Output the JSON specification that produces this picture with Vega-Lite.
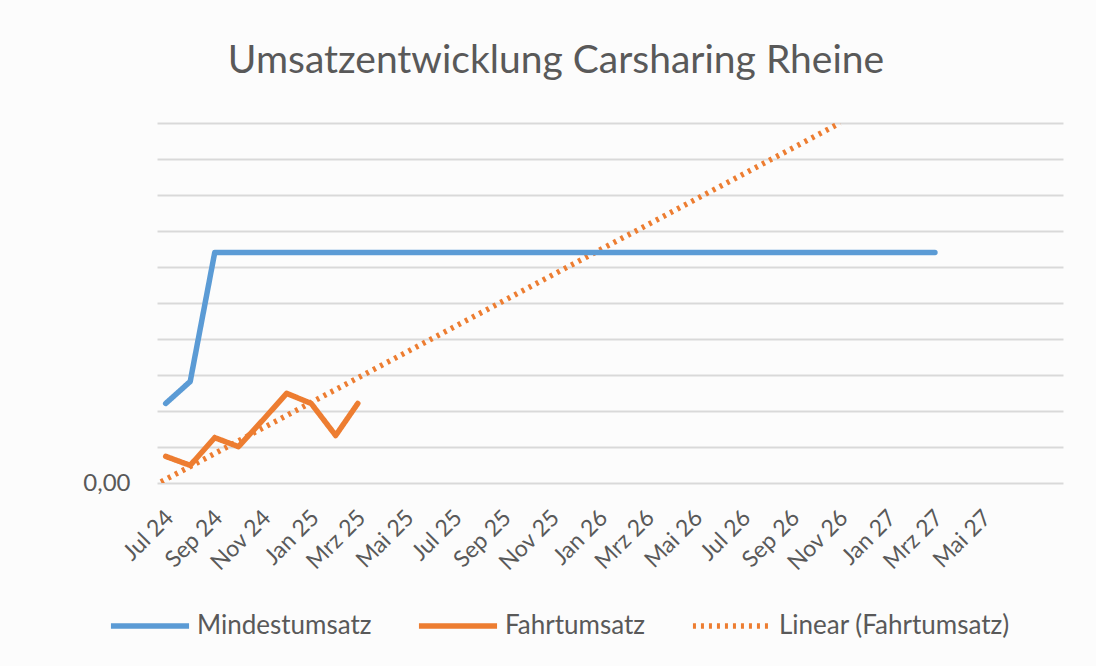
{
  "$schema": "https://vega.github.io/schema/vega-lite/v6.json",
  "width": 906,
  "height": 360,
  "autosize": {"type": "none"},
  "padding": {"left": 157, "top": 123, "right": 33, "bottom": 183},
  "background": "#fcfcfc",
  "title": {
    "text": "Umsatzentwicklung Carsharing Rheine",
    "font": "Lato",
    "fontSize": 39,
    "fontWeight": "normal",
    "color": "#595959",
    "anchor": "middle",
    "dx": -54,
    "offset": 42
  },
  "data": {
    "values": [
      {"date": "2024-07-01T00:00:00", "series": "Mindestumsatz", "value": 2.21},
      {"date": "2024-08-01T00:00:00", "series": "Mindestumsatz", "value": 2.82},
      {"date": "2024-09-01T00:00:00", "series": "Mindestumsatz", "value": 6.4},
      {"date": "2024-10-01T00:00:00", "series": "Mindestumsatz", "value": 6.4},
      {"date": "2024-11-01T00:00:00", "series": "Mindestumsatz", "value": 6.4},
      {"date": "2024-12-01T00:00:00", "series": "Mindestumsatz", "value": 6.4},
      {"date": "2025-01-01T00:00:00", "series": "Mindestumsatz", "value": 6.4},
      {"date": "2025-02-01T00:00:00", "series": "Mindestumsatz", "value": 6.4},
      {"date": "2025-03-01T00:00:00", "series": "Mindestumsatz", "value": 6.4},
      {"date": "2025-04-01T00:00:00", "series": "Mindestumsatz", "value": 6.4},
      {"date": "2025-05-01T00:00:00", "series": "Mindestumsatz", "value": 6.4},
      {"date": "2025-06-01T00:00:00", "series": "Mindestumsatz", "value": 6.4},
      {"date": "2025-07-01T00:00:00", "series": "Mindestumsatz", "value": 6.4},
      {"date": "2025-08-01T00:00:00", "series": "Mindestumsatz", "value": 6.4},
      {"date": "2025-09-01T00:00:00", "series": "Mindestumsatz", "value": 6.4},
      {"date": "2025-10-01T00:00:00", "series": "Mindestumsatz", "value": 6.4},
      {"date": "2025-11-01T00:00:00", "series": "Mindestumsatz", "value": 6.4},
      {"date": "2025-12-01T00:00:00", "series": "Mindestumsatz", "value": 6.4},
      {"date": "2026-01-01T00:00:00", "series": "Mindestumsatz", "value": 6.4},
      {"date": "2026-02-01T00:00:00", "series": "Mindestumsatz", "value": 6.4},
      {"date": "2026-03-01T00:00:00", "series": "Mindestumsatz", "value": 6.4},
      {"date": "2026-04-01T00:00:00", "series": "Mindestumsatz", "value": 6.4},
      {"date": "2026-05-01T00:00:00", "series": "Mindestumsatz", "value": 6.4},
      {"date": "2026-06-01T00:00:00", "series": "Mindestumsatz", "value": 6.4},
      {"date": "2026-07-01T00:00:00", "series": "Mindestumsatz", "value": 6.4},
      {"date": "2026-08-01T00:00:00", "series": "Mindestumsatz", "value": 6.4},
      {"date": "2026-09-01T00:00:00", "series": "Mindestumsatz", "value": 6.4},
      {"date": "2026-10-01T00:00:00", "series": "Mindestumsatz", "value": 6.4},
      {"date": "2026-11-01T00:00:00", "series": "Mindestumsatz", "value": 6.4},
      {"date": "2026-12-01T00:00:00", "series": "Mindestumsatz", "value": 6.4},
      {"date": "2027-01-01T00:00:00", "series": "Mindestumsatz", "value": 6.4},
      {"date": "2027-02-01T00:00:00", "series": "Mindestumsatz", "value": 6.4},
      {"date": "2027-03-01T00:00:00", "series": "Mindestumsatz", "value": 6.4},
      {"date": "2024-07-01T00:00:00", "series": "Fahrtumsatz", "value": 0.74},
      {"date": "2024-08-01T00:00:00", "series": "Fahrtumsatz", "value": 0.49},
      {"date": "2024-09-01T00:00:00", "series": "Fahrtumsatz", "value": 1.26},
      {"date": "2024-10-01T00:00:00", "series": "Fahrtumsatz", "value": 1.01},
      {"date": "2024-11-01T00:00:00", "series": "Fahrtumsatz", "value": 1.75},
      {"date": "2024-12-01T00:00:00", "series": "Fahrtumsatz", "value": 2.49},
      {"date": "2025-01-01T00:00:00", "series": "Fahrtumsatz", "value": 2.21},
      {"date": "2025-02-01T00:00:00", "series": "Fahrtumsatz", "value": 1.32},
      {"date": "2025-03-01T00:00:00", "series": "Fahrtumsatz", "value": 2.21},
      {"date": "2024-06-25T00:00:00", "series": "Linear (Fahrtumsatz)", "value": 0.03},
      {"date": "2026-11-01T00:00:00", "series": "Linear (Fahrtumsatz)", "value": 10.0}
    ]
  },
  "encoding": {
    "x": {
      "field": "date",
      "type": "temporal",
      "scale": {"domain": [{"year": 2024, "month": 6, "date": 20}, {"year": 2027, "month": 8, "date": 10}]},
      "axis": {
        "title": null,
        "grid": false,
        "domain": false,
        "ticks": false,
        "values": [
          {"year": 2024, "month": 7, "date": 1}, {"year": 2024, "month": 9, "date": 1}, {"year": 2024, "month": 11, "date": 1},
          {"year": 2025, "month": 1, "date": 1}, {"year": 2025, "month": 3, "date": 1}, {"year": 2025, "month": 5, "date": 1},
          {"year": 2025, "month": 7, "date": 1}, {"year": 2025, "month": 9, "date": 1}, {"year": 2025, "month": 11, "date": 1},
          {"year": 2026, "month": 1, "date": 1}, {"year": 2026, "month": 3, "date": 1}, {"year": 2026, "month": 5, "date": 1},
          {"year": 2026, "month": 7, "date": 1}, {"year": 2026, "month": 9, "date": 1}, {"year": 2026, "month": 11, "date": 1},
          {"year": 2027, "month": 1, "date": 1}, {"year": 2027, "month": 3, "date": 1}, {"year": 2027, "month": 5, "date": 1}
        ],
        "labelExpr": "['Jan','Feb','Mrz','Apr','Mai','Jun','Jul','Aug','Sep','Okt','Nov','Dez'][month(datum.value)] + ' ' + timeFormat(datum.value, '%y')",
        "labelAngle": -45,
        "labelAlign": "right",
        "labelBaseline": "top",
        "labelPadding": 23,
        "labelOffset": -4,
        "labelFont": "Lato",
        "labelFontSize": 23,
        "labelColor": "#595959",
        "labelOverlap": false,
        "labelBound": false,
        "labelFlush": false
      }
    },
    "y": {
      "field": "value",
      "type": "quantitative",
      "scale": {"domain": [0, 10], "nice": false, "zero": true},
      "axis": {
        "title": null,
        "values": [0, 1, 2, 3, 4, 5, 6, 7, 8, 9, 10],
        "labelExpr": "datum.value === 0 ? '0,00' : ''",
        "domain": false,
        "ticks": false,
        "grid": true,
        "gridColor": "#d9d9d9",
        "gridWidth": 2,
        "labelPadding": 27,
        "labelFont": "Lato",
        "labelFontSize": 24,
        "labelColor": "#595959"
      }
    },
    "color": {
      "field": "series",
      "type": "nominal",
      "scale": {"domain": ["Mindestumsatz", "Fahrtumsatz", "Linear (Fahrtumsatz)"], "range": ["#5b9bd5", "#ed7d31", "#ed7d31"]},
      "legend": {
        "title": null,
        "orient": "none",
        "direction": "horizontal",
        "legendX": -49,
        "legendY": 461,
        "symbolType": "stroke",
        "symbolSize": 6100,
        "symbolStrokeWidth": 5,
        "labelFont": "Lato",
        "labelFontSize": 26,
        "labelLimit": 400,
        "labelColor": "#595959",
        "labelOffset": 5,
        "columnPadding": 35
      }
    },
    "strokeDash": {
      "field": "series",
      "type": "nominal",
      "scale": {"domain": ["Mindestumsatz", "Fahrtumsatz", "Linear (Fahrtumsatz)"], "range": [[1, 0], [1, 0], [3, 5]]}
    },
    "strokeWidth": {
      "field": "series",
      "type": "nominal",
      "scale": {"domain": ["Mindestumsatz", "Fahrtumsatz", "Linear (Fahrtumsatz)"], "range": [5.5, 5.5, 3.5]},
      "legend": null
    }
  },
  "layer": [
    {
      "transform": [{"filter": "datum.series === 'Linear (Fahrtumsatz)'"}],
      "mark": {"type": "line", "strokeCap": "butt", "clip": true}
    },
    {
      "transform": [{"filter": "datum.series !== 'Linear (Fahrtumsatz)'"}],
      "mark": {"type": "line", "strokeCap": "round", "strokeJoin": "round", "clip": true}
    }
  ],
  "config": {
    "view": {"stroke": null}
  }
}
